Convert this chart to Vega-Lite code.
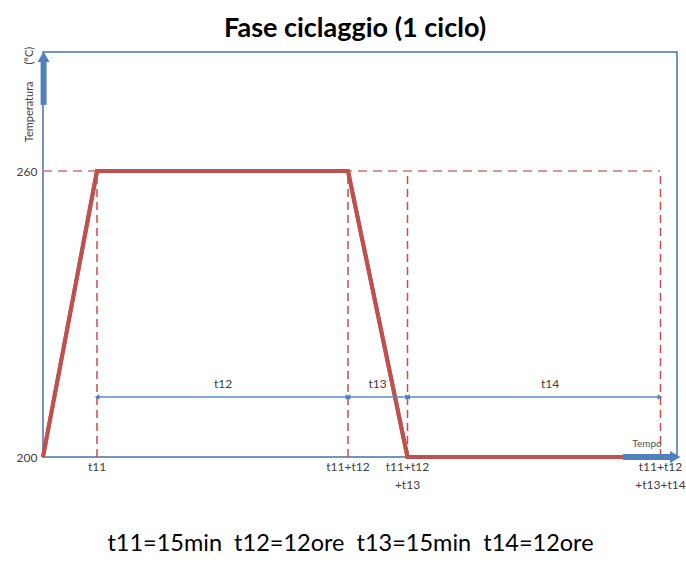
{
  "$schema": "https://vega.github.io/schema/vega-lite/v6.json",
  "autosize": "none",
  "width": 634,
  "height": 405,
  "padding": {"left": 43, "top": 52, "right": 9, "bottom": 109},
  "background": "white",
  "title": {"text": "Fase ciclaggio (1 ciclo)", "font": "Lato", "fontSize": 27, "fontWeight": "bold", "color": "#000000", "anchor": "middle", "offset": 7, "dx": -5, "dy": 4},
  "config": {"view": {"stroke": "#4a6fa8", "strokeWidth": 1.5}, "font": "Lato"},
  "datasets": {
    "profile": [
      {"t": 0, "temp": 200},
      {"t": 54, "temp": 260},
      {"t": 305, "temp": 260},
      {"t": 364.5, "temp": 200},
      {"t": 617, "temp": 200}
    ],
    "level": [{"from": 0, "to": 617, "temp": 260}],
    "instants": [
      {"t": 54, "label": ["t11"]},
      {"t": 305, "label": ["t11+t12"]},
      {"t": 364.5, "label": ["t11+t12", "+t13"]},
      {"t": 617.5, "label": ["t11+t12", "+t13+t14"]}
    ],
    "spans": [
      {"name": "t12", "x1": 54, "x2": 305, "lx": 180, "y": 212.6},
      {"name": "t13", "x1": 305, "x2": 364.5, "lx": 334.5, "y": 212.6},
      {"name": "t14", "x1": 364.5, "x2": 617, "lx": 507, "y": 212.6}
    ],
    "yarrow": [{"x": 0.6, "y1": 273.9, "y2": 283, "head": 284.0}],
    "xarrow": [{"x1": 580, "x2": 628, "head": 632.2, "y": 200}]
  },
  "layer": [
    {
      "data": {"name": "profile"},
      "mark": {"type": "line", "color": "#c0504d", "strokeWidth": 4, "strokeJoin": "miter"},
      "encoding": {
        "x": {
          "field": "t", "type": "quantitative",
          "scale": {"domain": [0, 634], "nice": false, "zero": false},
          "axis": {
            "ticks": false, "domain": false, "labels": false, "grid": false,
            "title": "t11=15min\u00a0\u00a0t12=12ore\u00a0\u00a0t13=15min\u00a0\u00a0t14=12ore",
            "titleFont": "Lato", "titleFontSize": 23.5, "titleFontWeight": "normal", "titleColor": "#000000",
            "titlePadding": 74, "titleX": 307, "titleAlign": "center"
          }
        },
        "y": {
          "field": "temp", "type": "quantitative",
          "scale": {"domain": [200, 285], "nice": false, "zero": false},
          "axis": {
            "values": [200, 260], "ticks": false, "domain": false, "grid": false,
            "labelPadding": 6, "labelFontSize": 12, "labelColor": "#404040", "labelFont": "Lato",
            "title": "Temperatura\u00a0\u00a0\u00a0\u00a0\u00a0\u00a0(°C)",
            "titleFont": "Lato", "titleFontSize": 11, "titleFontWeight": "normal", "titleColor": "#404040",
            "titleX": -14, "titleY": 42, "titleAngle": -90, "titleBaseline": "middle", "titleAlign": "center"
          }
        }
      }
    },
    {
      "data": {"name": "level"},
      "mark": {"type": "rule", "color": "#d99694", "strokeWidth": 2, "strokeDash": [9, 6]},
      "encoding": {
        "x": {"field": "from", "type": "quantitative"},
        "x2": {"field": "to"},
        "y": {"field": "temp", "type": "quantitative"}
      }
    },
    {
      "data": {"name": "instants"},
      "mark": {"type": "rule", "color": "#d04a48", "strokeWidth": 1.5, "strokeDash": [8, 5]},
      "encoding": {
        "x": {"field": "t", "type": "quantitative"},
        "y": {"datum": 200, "type": "quantitative"},
        "y2": {"datum": 260}
      }
    },
    {
      "data": {"name": "profile"},
      "mark": {"type": "line", "color": "#c0504d", "strokeWidth": 4, "strokeJoin": "miter"},
      "encoding": {
        "x": {"field": "t", "type": "quantitative"},
        "y": {"field": "temp", "type": "quantitative"}
      }
    },
    {
      "data": {"name": "spans"},
      "mark": {"type": "rule", "color": "#5a8ac6", "strokeWidth": 1.5},
      "encoding": {
        "x": {"field": "x1", "type": "quantitative"},
        "x2": {"field": "x2"},
        "y": {"field": "y", "type": "quantitative"}
      }
    },
    {
      "data": {"name": "spans"},
      "mark": {"type": "point", "shape": "triangle-left", "filled": true, "size": 30, "color": "#4f81bd", "opacity": 1, "dx": 2.4},
      "encoding": {
        "x": {"field": "x1", "type": "quantitative"},
        "y": {"field": "y", "type": "quantitative"}
      }
    },
    {
      "data": {"name": "spans"},
      "mark": {"type": "point", "shape": "triangle-right", "filled": true, "size": 30, "color": "#4f81bd", "opacity": 1, "dx": -2.4},
      "encoding": {
        "x": {"field": "x2", "type": "quantitative"},
        "y": {"field": "y", "type": "quantitative"}
      }
    },
    {
      "data": {"name": "spans"},
      "mark": {"type": "text", "fontSize": 12, "color": "#404040", "font": "Lato", "baseline": "middle", "align": "center", "dy": -13},
      "encoding": {
        "x": {"field": "lx", "type": "quantitative"},
        "y": {"field": "y", "type": "quantitative"},
        "text": {"field": "name", "type": "nominal"}
      }
    },
    {
      "data": {"name": "instants"},
      "mark": {"type": "text", "fontSize": 12, "color": "#404040", "font": "Lato", "baseline": "top", "align": "center", "dy": 5, "lineHeight": 18},
      "encoding": {
        "x": {"field": "t", "type": "quantitative"},
        "y": {"datum": 200, "type": "quantitative"},
        "text": {"field": "label", "type": "nominal"}
      }
    },
    {
      "data": {"name": "xarrow"},
      "mark": {"type": "text", "fontSize": 10, "color": "#505050", "font": "Lato", "baseline": "middle", "align": "center", "dy": -13},
      "encoding": {
        "x": {"datum": 604, "type": "quantitative"},
        "y": {"field": "y", "type": "quantitative"},
        "text": {"value": "Tempo"}
      }
    },
    {
      "data": {"name": "yarrow"},
      "mark": {"type": "rule", "color": "#4f81bd", "strokeWidth": 6, "strokeCap": "butt"},
      "encoding": {
        "x": {"field": "x", "type": "quantitative"},
        "y": {"field": "y1", "type": "quantitative"},
        "y2": {"field": "y2"}
      }
    },
    {
      "data": {"name": "yarrow"},
      "mark": {"type": "point", "shape": "triangle-up", "filled": true, "size": 144, "color": "#4f81bd", "opacity": 1},
      "encoding": {
        "x": {"field": "x", "type": "quantitative"},
        "y": {"field": "head", "type": "quantitative"}
      }
    },
    {
      "data": {"name": "xarrow"},
      "mark": {"type": "rule", "color": "#4f81bd", "strokeWidth": 6, "strokeCap": "butt"},
      "encoding": {
        "x": {"field": "x1", "type": "quantitative"},
        "x2": {"field": "x2"},
        "y": {"field": "y", "type": "quantitative"}
      }
    },
    {
      "data": {"name": "xarrow"},
      "mark": {"type": "point", "shape": "triangle-right", "filled": true, "size": 144, "color": "#4f81bd", "opacity": 1},
      "encoding": {
        "x": {"field": "head", "type": "quantitative"},
        "y": {"field": "y", "type": "quantitative"}
      }
    }
  ]
}
